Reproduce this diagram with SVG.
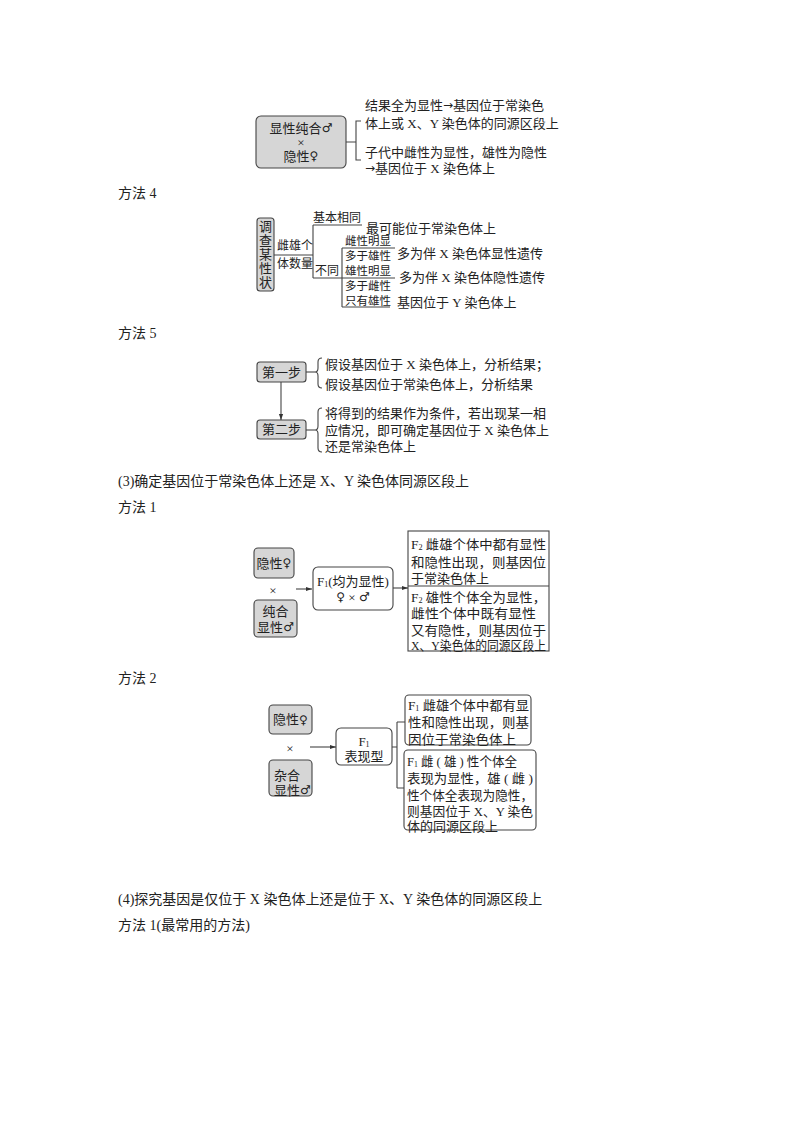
<svg xmlns="http://www.w3.org/2000/svg" width="800" height="1132" viewBox="0 0 800 1132">
<style>
text{font-family:"Liberation Serif","Noto Sans CJK SC",serif;fill:#222;dominant-baseline:central}
.t13{font-size:13px}
.t12{font-size:12px}
.t11{font-size:11.5px}
.t14{font-size:14px}
.mid{text-anchor:middle}
.g{fill:#d6d6d6;stroke:#444;stroke-width:1.1}
.w{fill:#fff;stroke:#444;stroke-width:1.1}
.ln{fill:none;stroke:#444;stroke-width:1.1}
.sub{font-size:8px}
.sym{font-family:"DejaVu Sans",sans-serif;font-size:12px}
</style>
<defs>
<marker id="ah" viewBox="0 0 10 10" refX="10" refY="5" markerWidth="6" markerHeight="6" orient="auto" markerUnits="userSpaceOnUse">
<path d="M0,1.5 L10,5 L0,8.5 z" fill="#333"/>
</marker>
</defs>
<rect width="800" height="1132" fill="#fff"/>

<!-- body texts -->
<g id="body-text">
<text class="t14" x="118" y="193">方法 4</text>
<text class="t14" x="118" y="333">方法 5</text>
<text class="t14" x="118" y="481">(3)确定基因位于常染色体上还是 X、Y 染色体同源区段上</text>
<text class="t14" x="118" y="507">方法 1</text>
<text class="t14" x="118" y="678">方法 2</text>
<text class="t14" x="118" y="899">(4)探究基因是仅位于 X 染色体上还是位于 X、Y 染色体的同源区段上</text>
<text class="t14" x="118" y="925">方法 1(最常用的方法)</text>
</g>

<!-- connectors -->
<g id="connectors">
<path class="ln" d="M346,142 H356 M361,121 H356 V160 H361"/>
<path class="ln" d="M274,255 H313 M313,225 V278 M313,225 H362 M313,278 H395 M342,248 V307 M342,248 H395 M342,307 H390"/>
<path class="ln" d="M306,372 H315"/>
<path class="ln" d="M322,358 Q318,358 318,362 V368 Q318,372 315,372 Q318,372 318,376 V384 Q318,388 322,388"/>
<path class="ln" d="M306,430 H315"/>
<path class="ln" d="M322,408 Q318,408 318,412 V426 Q318,430 315,430 Q318,430 318,434 V448 Q318,452 322,452"/>
<line class="ln" x1="281" y1="382" x2="281" y2="420" marker-end="url(#ah)"/>
<line class="ln" x1="296" y1="589" x2="312" y2="589" marker-end="url(#ah)"/>
<line class="ln" x1="393" y1="588" x2="408" y2="588" marker-end="url(#ah)"/>
<line class="ln" x1="310" y1="747" x2="336" y2="747" marker-end="url(#ah)"/>
<path class="ln" d="M392,747 H397 M397,722 V788 M397,722 H405 M397,788 H404"/>
</g>

<!-- top section -->
<g id="cross-top">
<rect class="g" x="256" y="116" width="90" height="52" rx="5"/>
<text class="t13 mid" x="301" y="128">显性纯合<tspan class="sym">♂</tspan></text>
<text class="t13 mid" x="301" y="142">×</text>
<text class="t13 mid" x="301" y="156">隐性<tspan class="sym">♀</tspan></text>
</g>
<g id="result-top">
<text class="t13" x="365" y="105">结果全为显性<tspan class="sym">→</tspan>基因位于常染色</text>
<text class="t13" x="365" y="123">体上或 X、Y 染色体的同源区段上</text>
<text class="t13" x="365" y="152">子代中雌性为显性，雄性为隐性</text>
<text class="t13" x="365" y="168"><tspan class="sym">→</tspan>基因位于 X 染色体上</text>
</g>

<!-- method 4 -->
<g id="survey">
<rect class="g" x="257" y="218" width="17" height="73" rx="3"/>
<text class="t13 mid" x="265.5" y="226">调</text>
<text class="t13 mid" x="265.5" y="240">查</text>
<text class="t13 mid" x="265.5" y="254">某</text>
<text class="t13 mid" x="265.5" y="268">性</text>
<text class="t13 mid" x="265.5" y="282">状</text>
</g>
<g id="m4-labels">
<text class="t12" x="277" y="246">雌雄个</text>
<text class="t12" x="277" y="264">体数量</text>
<text class="t12" x="313" y="218">基本相同</text>
<text class="t12" x="315" y="271">不同</text>
<text class="t11" x="345" y="241">雌性明显</text>
<text class="t11" x="345" y="256">多于雄性</text>
<text class="t11" x="345" y="271">雄性明显</text>
<text class="t11" x="345" y="286">多于雌性</text>
<text class="t11" x="345" y="301">只有雄性</text>
</g>
<g id="m4-results">
<text class="t13" x="366" y="228">最可能位于常染色体上</text>
<text class="t13" x="397" y="253">多为伴 X 染色体显性遗传</text>
<text class="t13" x="399" y="277">多为伴 X 染色体隐性遗传</text>
<text class="t13" x="397" y="302">基因位于 Y 染色体上</text>
</g>

<!-- method 5 -->
<g id="step1">
<rect class="g" x="257" y="362" width="49" height="20" rx="3"/>
<text class="t13 mid" x="281.5" y="372">第一步</text>
</g>
<g id="step1-text">
<text class="t13" x="325" y="364">假设基因位于 X 染色体上，分析结果；</text>
<text class="t13" x="325" y="384">假设基因位于常染色体上，分析结果</text>
</g>
<g id="step2">
<rect class="g" x="257" y="420" width="49" height="19" rx="3"/>
<text class="t13 mid" x="281.5" y="429.5">第二步</text>
</g>
<g id="step2-text">
<text class="t13" x="325" y="413">将得到的结果作为条件，若出现某一相</text>
<text class="t13" x="325" y="430">应情况，即可确定基因位于 X 染色体上</text>
<text class="t13" x="325" y="446">还是常染色体上</text>
</g>

<!-- section 3 method 1 -->
<g id="s3-recessive">
<rect class="g" x="254" y="548" width="40" height="30" rx="4"/>
<text class="t13 mid" x="274" y="563">隐性<tspan class="sym">♀</tspan></text>
</g>
<text class="t13 mid" x="273" y="590">×</text>
<g id="s3-pure">
<rect class="g" x="254" y="600" width="43" height="37" rx="4"/>
<text class="t13 mid" x="275.5" y="611">纯合</text>
<text class="t13 mid" x="275.5" y="627">显性<tspan class="sym">♂</tspan></text>
</g>
<g id="s3-f1">
<rect class="w" x="313" y="567" width="80" height="43" rx="5"/>
<text class="t13 mid" x="353" y="581">F<tspan class="sub" dy="3">1</tspan><tspan dy="-3">(均为显性)</tspan></text>
<text class="t13 mid" x="353" y="597"><tspan class="sym">♀</tspan> × <tspan class="sym">♂</tspan></text>
</g>
<g id="s3-results">
<rect class="ln" x="408" y="531" width="141" height="120" style="fill:#fff"/>
<line class="ln" x1="408" y1="586" x2="549" y2="586"/>
<text class="t13" x="411" y="544" textLength="135" lengthAdjust="spacingAndGlyphs">F<tspan class="sub" dy="3">2</tspan><tspan dy="-3"> 雌雄个体中都有显性</tspan></text>
<text class="t13" x="411" y="562" textLength="135" lengthAdjust="spacingAndGlyphs">和隐性出现，则基因位</text>
<text class="t13" x="411" y="578">于常染色体上</text>
<text class="t13" x="411" y="597" textLength="135" lengthAdjust="spacingAndGlyphs">F<tspan class="sub" dy="3">2</tspan><tspan dy="-3"> 雄性个体全为显性，</tspan></text>
<text class="t13" x="411" y="613" textLength="125" lengthAdjust="spacingAndGlyphs">雌性个体中既有显性</text>
<text class="t13" x="411" y="630" textLength="135" lengthAdjust="spacingAndGlyphs">又有隐性，则基因位于</text>
<text class="t13" x="411" y="645" textLength="135" lengthAdjust="spacingAndGlyphs">X、Y染色体的同源区段上</text>
</g>

<!-- method 2 -->
<g id="m2-recessive">
<rect class="g" x="269" y="705" width="43" height="29" rx="4"/>
<text class="t13 mid" x="290.5" y="719.5">隐性<tspan class="sym">♀</tspan></text>
</g>
<text class="t13 mid" x="290" y="748">×</text>
<g id="m2-hetero">
<rect class="g" x="269" y="760" width="43" height="36" rx="4"/>
<text class="t13" x="274" y="775">杂合</text>
<text class="t13" x="274" y="790">显性<tspan class="sym">♂</tspan></text>
</g>
<g id="m2-f1">
<rect class="w" x="336" y="728" width="56" height="37" rx="5"/>
<text class="t13 mid" x="364" y="741">F<tspan class="sub" dy="3">1</tspan></text>
<text class="t13 mid" x="364" y="756">表现型</text>
</g>
<g id="m2-result1">
<rect class="w" x="405" y="695" width="126" height="50" rx="4"/>
<text class="t13" x="408" y="705" textLength="121" lengthAdjust="spacingAndGlyphs">F<tspan class="sub" dy="3">1</tspan><tspan dy="-3"> 雌雄个体中都有显</tspan></text>
<text class="t13" x="408" y="722" textLength="121" lengthAdjust="spacingAndGlyphs">性和隐性出现，则基</text>
<text class="t13" x="408" y="739" textLength="108" lengthAdjust="spacingAndGlyphs">因位于常染色体上</text>
</g>
<g id="m2-result2">
<rect class="w" x="404" y="750" width="132" height="80" rx="4"/>
<text class="t13" x="407" y="761" textLength="110" lengthAdjust="spacingAndGlyphs">F<tspan class="sub" dy="3">1</tspan><tspan dy="-3"> 雌 ( 雄 ) 性个体全</tspan></text>
<text class="t13" x="407" y="778" textLength="126" lengthAdjust="spacingAndGlyphs">表现为显性，雄 ( 雌 )</text>
<text class="t13" x="407" y="795" textLength="126" lengthAdjust="spacingAndGlyphs">性个体全表现为隐性，</text>
<text class="t13" x="407" y="811" textLength="126" lengthAdjust="spacingAndGlyphs">则基因位于 X、Y 染色</text>
<text class="t13" x="407" y="826">体的同源区段上</text>
</g>
</svg>
